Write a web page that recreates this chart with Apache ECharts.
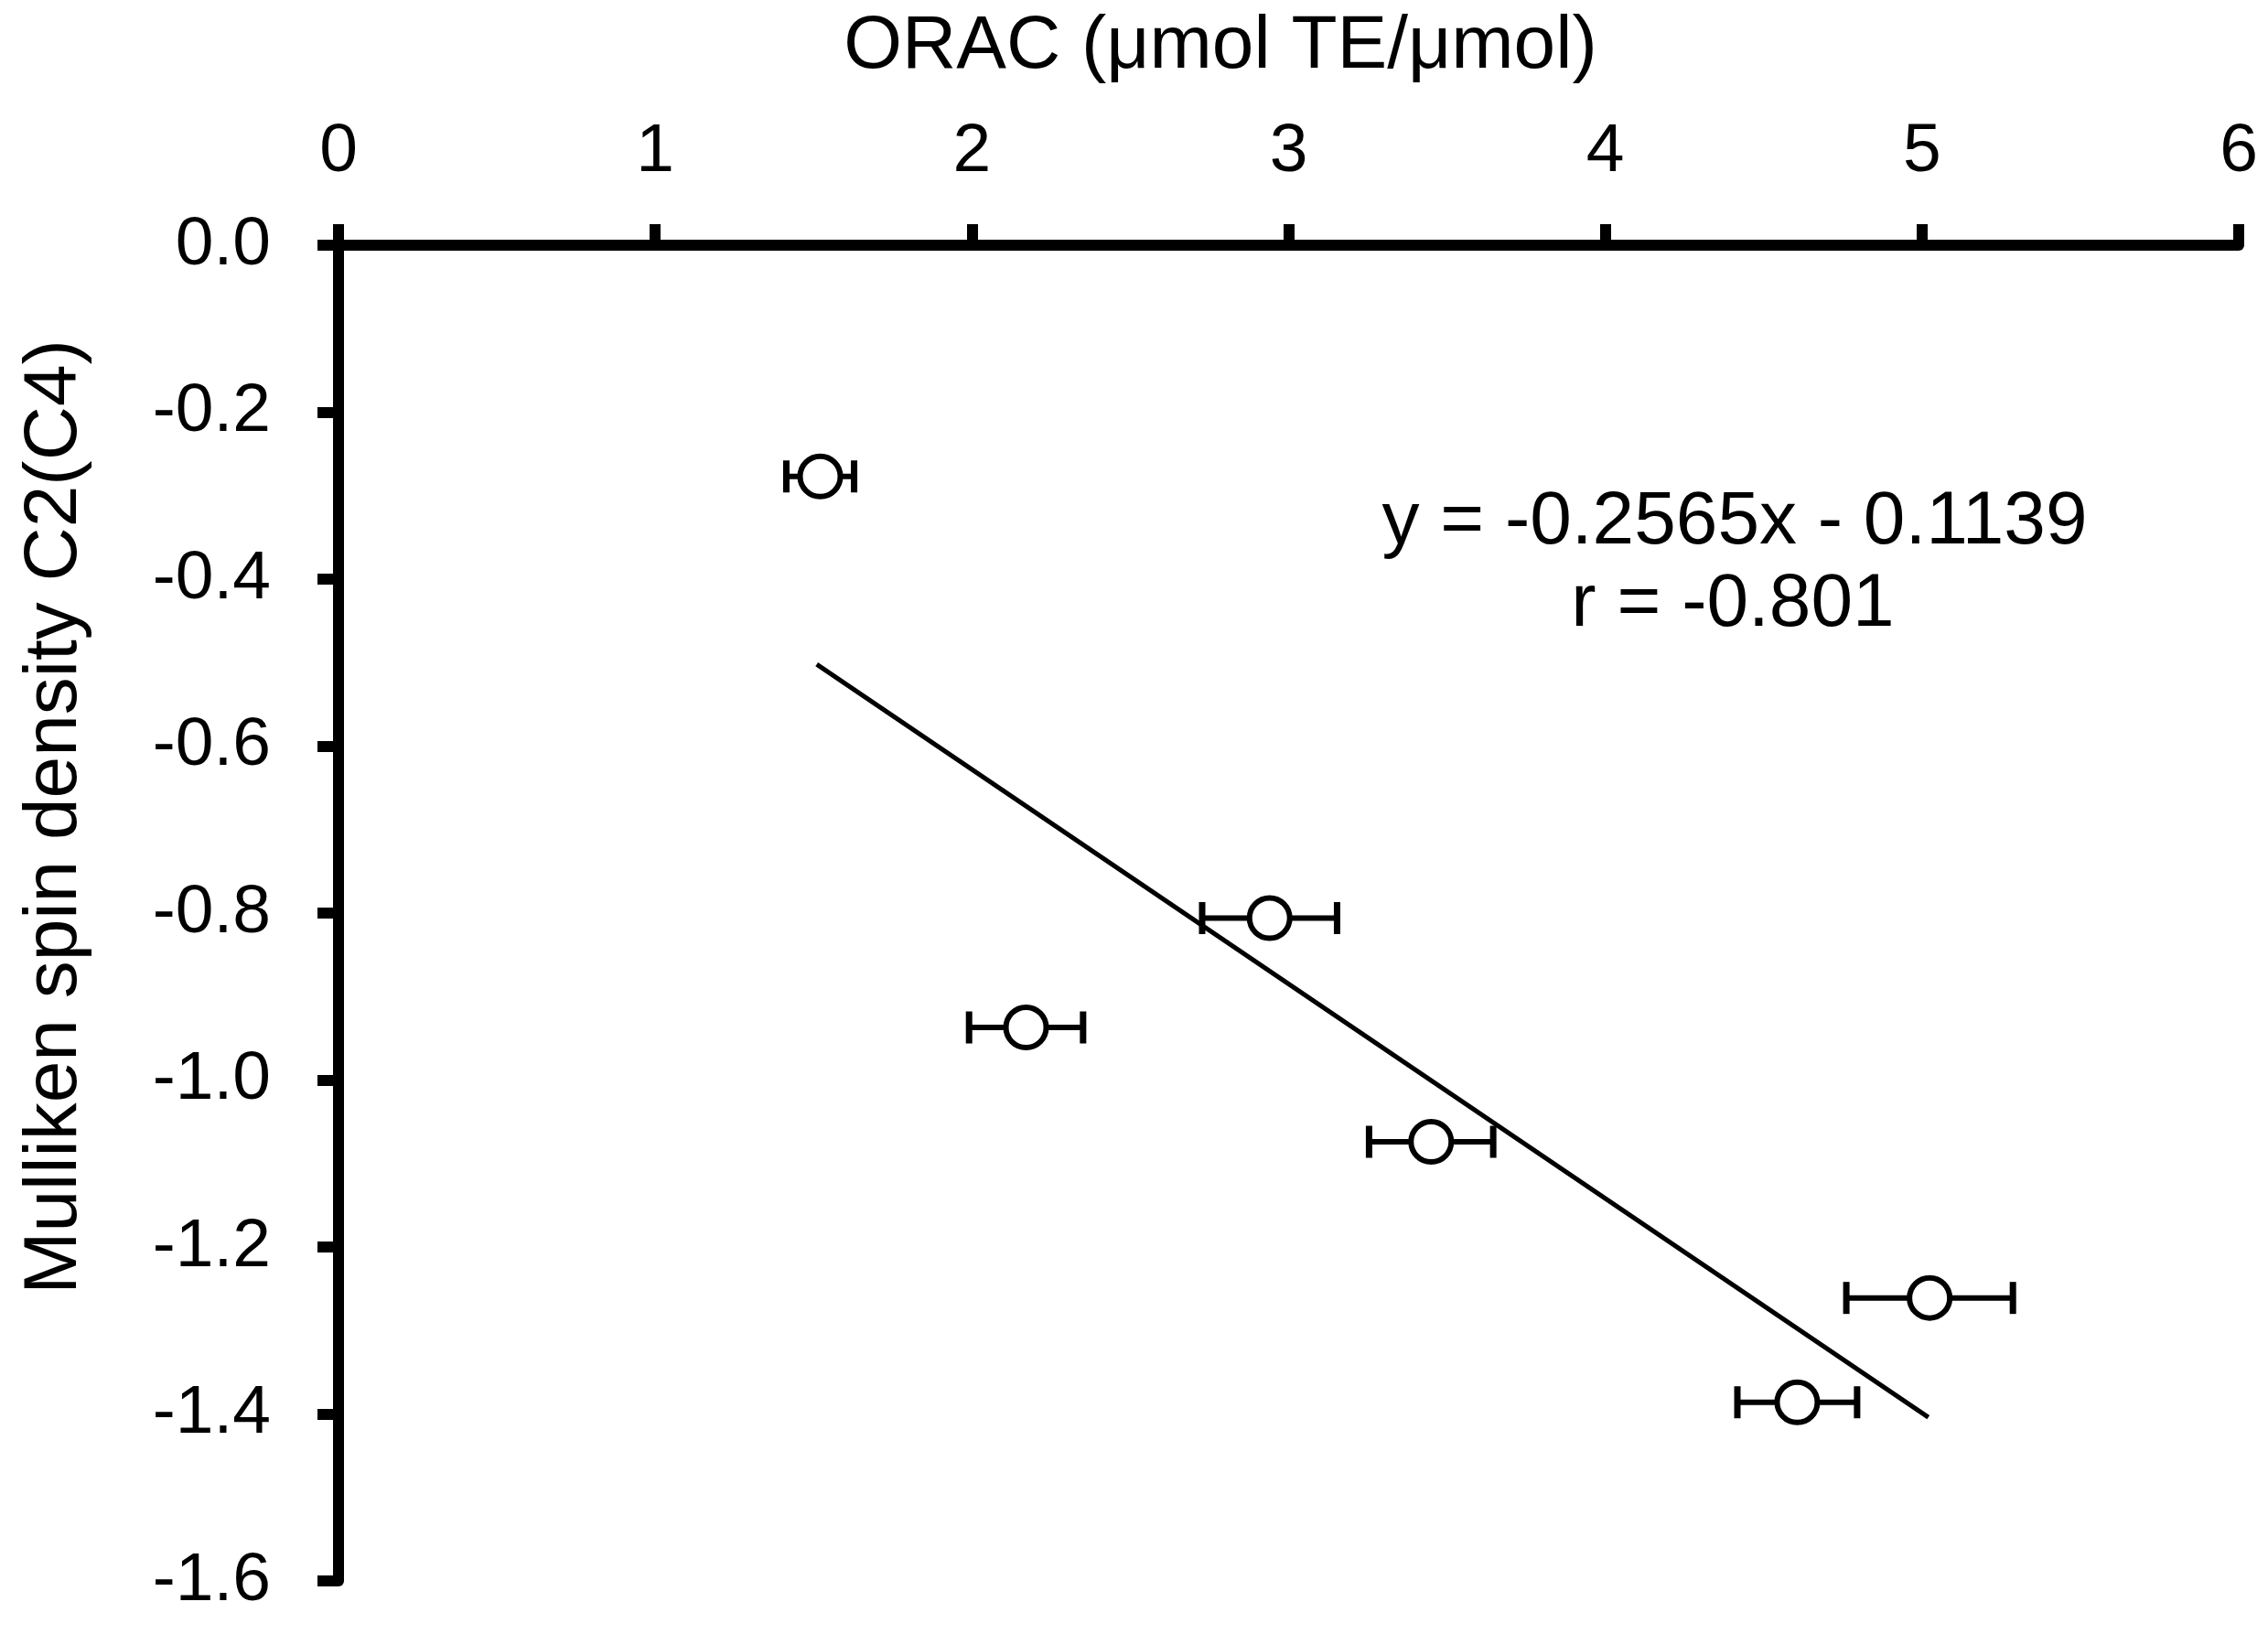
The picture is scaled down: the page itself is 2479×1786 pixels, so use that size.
<!DOCTYPE html>
<html>
<head>
<meta charset="utf-8">
<script src="https://cdn.jsdelivr.net/npm/echarts@6/dist/echarts.min.js"></script>
<style>
html,body{margin:0;padding:0;background:#fff;}
#chart{width:2479px;height:1786px;}
</style>
</head>
<body>
<div id="chart"></div>
<script>
// Data
var oracValues = [1.521, 2.171, 2.940, 3.450, 4.606, 5.024];
var spinValues = [-0.277, -0.937, -0.806, -1.074, -1.386, -1.261];
var oracErrors = [0.107, 0.180, 0.213, 0.196, 0.189, 0.263];
var trendX = [1.51, 5.02];
var trendY = [-0.502, -1.404];
var xTicks = [0, 1, 2, 3, 4, 5, 6];
var yTicks = [0.0, -0.2, -0.4, -0.6, -0.8, -1.0, -1.2, -1.4, -1.6];
var xTitle = 'ORAC (μmol TE/μmol)';
var yTitle = 'Mulliken spin density C2(C4)';
var eqText = 'y = -0.2565x - 0.1139';
var rText = 'r = -0.801';

var FONT = '"Liberation Sans", Arial, sans-serif';

var points = oracValues.map(function (x, i) { return [x, spinValues[i]]; });
var errData = oracValues.map(function (x, i) { return [x, spinValues[i], oracErrors[i]]; });
var trendData = trendX.map(function (x, i) { return [x, trendY[i]]; });

var chart = echarts.init(document.getElementById('chart'));
chart.setOption({
  backgroundColor: '#ffffff',
  animation: false,
  grid: { left: 370, right: 32, top: 268, bottom: 58, containLabel: false },
  xAxis: {
    type: 'value', position: 'top', min: xTicks[0], max: xTicks[xTicks.length - 1], interval: 1,
    axisLine: { onZero: false, lineStyle: { color: '#000', width: 12 } },
    axisTick: { show: true, inside: false, length: 23, lineStyle: { color: '#000', width: 12 } },
    axisLabel: { color: '#000', fontSize: 75, fontFamily: FONT, margin: 64 },
    splitLine: { show: false }
  },
  yAxis: {
    type: 'value', min: yTicks[yTicks.length - 1], max: yTicks[0], interval: 0.2,
    axisLine: { onZero: false, lineStyle: { color: '#000', width: 12 } },
    axisTick: { show: true, inside: false, length: 23, lineStyle: { color: '#000', width: 12 } },
    axisLabel: { color: '#000', fontSize: 75, fontFamily: FONT, margin: 74,
      formatter: function (v) { return (Math.abs(v) < 1e-9 ? 0 : v).toFixed(1); } },
    splitLine: { show: false }
  },
  graphic: [
    { type: 'text', x: 1334, y: 51, style: { text: xTitle, font: '82px ' + FONT, fill: '#000', align: 'center', verticalAlign: 'middle' } },
    { type: 'text', x: 60, y: 893, rotation: Math.PI / 2, style: { text: yTitle, font: '82px ' + FONT, fill: '#000', align: 'center', verticalAlign: 'middle' } },
    { type: 'text', x: 1896, y: 571, style: { text: eqText, font: '82px ' + FONT, fill: '#000', align: 'center', verticalAlign: 'middle' } },
    { type: 'text', x: 1894, y: 661, style: { text: rText, font: '82px ' + FONT, fill: '#000', align: 'center', verticalAlign: 'middle' } }
  ],
  series: [
    {
      type: 'line', data: trendData, symbol: 'none', z: 2,
      lineStyle: { color: '#000', width: 5 }
    },
    {
      type: 'custom', z: 3, data: errData,
      renderItem: function (params, api) {
        var x = api.value(0), y = api.value(1), e = api.value(2);
        var a = api.coord([x - e, y]);
        var b = api.coord([x + e, y]);
        var h = 17.5;
        return {
          type: 'group',
          children: [
            { type: 'line', shape: { x1: a[0], y1: a[1], x2: b[0], y2: b[1] }, style: { stroke: '#000', lineWidth: 6 } },
            { type: 'line', shape: { x1: a[0], y1: a[1] - h, x2: a[0], y2: a[1] + h }, style: { stroke: '#000', lineWidth: 7 } },
            { type: 'line', shape: { x1: b[0], y1: b[1] - h, x2: b[0], y2: b[1] + h }, style: { stroke: '#000', lineWidth: 7 } }
          ]
        };
      }
    },
    {
      type: 'scatter', data: points, symbol: 'circle', symbolSize: 44, z: 4,
      itemStyle: { color: '#fff', borderColor: '#000', borderWidth: 6, opacity: 1 }
    }
  ]
});
</script>
</body>
</html>
